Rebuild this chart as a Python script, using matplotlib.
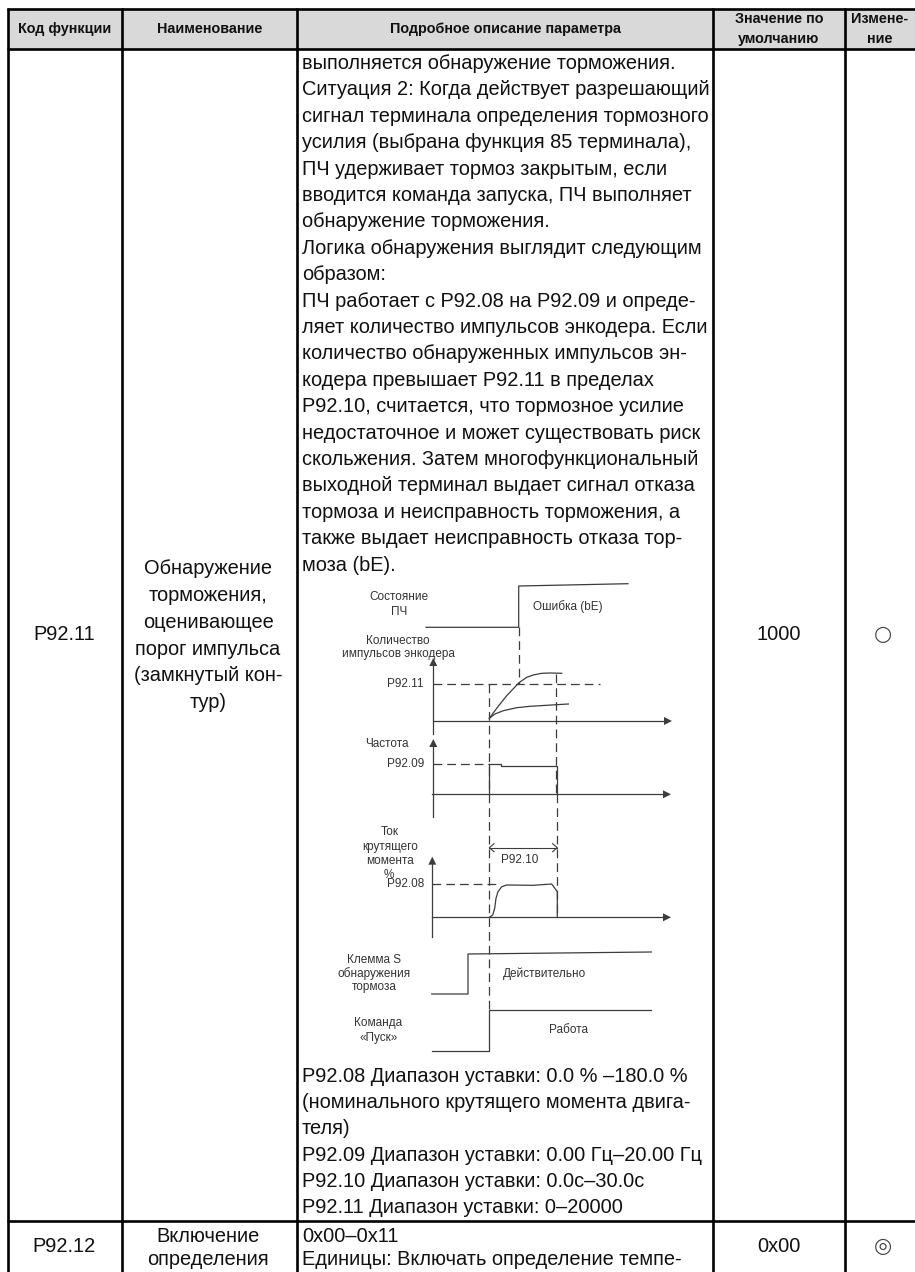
import matplotlib
matplotlib.use("Agg")
import matplotlib.pyplot as plt
from matplotlib.patches import Rectangle, Polygon

plt.rcParams['font.family'] = ['Liberation Sans', 'DejaVu Sans']

headers = [["Код функции"], ["Наименование"], ["Подробное описание параметра"],
           ["Значение по", "умолчанию"], ["Измене-", "ние"]]

body_top = ["выполняется обнаружение торможения.",
            "Ситуация 2: Когда действует разрешающий",
            "сигнал терминала определения тормозного",
            "усилия (выбрана функция 85 терминала),",
            "ПЧ удерживает тормоз закрытым, если",
            "вводится команда запуска, ПЧ выполняет",
            "обнаружение торможения.",
            "Логика обнаружения выглядит следующим",
            "образом:",
            "ПЧ работает с P92.08 на P92.09 и опреде-",
            "ляет количество импульсов энкодера. Если",
            "количество обнаруженных импульсов эн-",
            "кодера превышает P92.11 в пределах",
            "P92.10, считается, что тормозное усилие",
            "недостаточное и может существовать риск",
            "скольжения. Затем многофункциональный",
            "выходной терминал выдает сигнал отказа",
            "тормоза и неисправность торможения, а",
            "также выдает неисправность отказа тор-",
            "моза (bE)."]

body_bottom = ["P92.08 Диапазон уставки: 0.0 % –180.0 %",
               "(номинального крутящего момента двига-",
               "теля)",
               "P92.09 Диапазон уставки: 0.00 Гц–20.00 Гц",
               "P92.10 Диапазон уставки: 0.0с–30.0с",
               "P92.11 Диапазон уставки: 0–20000"]

name_p9211 = ["Обнаружение", "торможения,", "оценивающее", "порог импульса", "(замкнутый кон-", "тур)"]
name_p9212 = ["Включение", "определения"]
desc_p9212 = ["0x00–0x11", "Единицы: Включать определение темпе-"]

col_x = [8, 122, 297, 713, 845, 915]
row_y = [9, 48.5, 1221, 1272]

# diagram traces, page pixels
state_x = [426, 518.7, 518.7, 628]
state_y = [627.3, 627.3, 586, 583.7]
fast_x = [489.3, 496.7, 506.7, 519, 526.7, 533.3, 541.7, 550, 561.7]
fast_y = [718.3, 708.3, 695.7, 682.7, 677.3, 675, 673.3, 673, 673.3]
slow_x = [489.3, 495, 503.3, 516.7, 530, 546.7, 568.3]
slow_y = [718.3, 714, 710.7, 707.7, 706.3, 705.3, 704]
freq_x = [489.3, 500.7, 500.7, 557.3, 557.3]
freq_y = [764, 764, 765.7, 765.7, 794.3]
torque_x = [489.3, 492.7, 494.7, 496, 498, 501.7, 506.7, 533.3, 551.7, 557.3, 557.3]
torque_y = [917.3, 915, 908.3, 898.3, 891.7, 886.7, 885, 885.3, 884, 891.7, 917.3]
term_x = [431.7, 468, 468, 651.3]
term_y = [994, 994, 954, 952]
run_x = [431.7, 489.3, 489.3, 651.3]
run_y = [1051, 1051, 1010, 1010]

fig = plt.figure(figsize=(9.15, 12.72), dpi=100)
ax = fig.add_axes([0, 0, 1, 1])
ax.set_xlim(0, 915)
ax.set_ylim(1272, 0)
ax.axis('off')

# header band and grid
ax.add_patch(Rectangle((col_x[0], row_y[0]), col_x[-1] - col_x[0], row_y[1] - row_y[0], color='#d9d9d9', zorder=0))
for x in col_x[:-1]:
    ax.plot([x, x], [row_y[0] - 1, row_y[-1]], color='black', lw=1.9, solid_capstyle='butt')
for y in row_y[:-1]:
    ax.plot([col_x[0] - 1, 915], [y, y], color='black', lw=1.9, solid_capstyle='butt')

# header text
for i, lines in enumerate(headers):
    xc = (col_x[i] + col_x[i + 1]) / 2
    yc = (row_y[0] + row_y[1]) / 2 + 0.5
    for k, s in enumerate(lines):
        y = yc + (k - (len(lines) - 1) / 2) * 20
        ax.text(xc, y, s, ha='center', va='center', fontsize=10.4, fontweight='bold', color='#111111')

BODY = 14.4
PITCH = 26.4
for i, s in enumerate(body_top):
    ax.text(302, 63.5 + i * PITCH, s, va='center', fontsize=BODY, color='#111111')
for i, s in enumerate(body_bottom):
    ax.text(302, 1076.5 + i * 26.2, s, va='center', fontsize=BODY, color='#111111')

for i, s in enumerate(name_p9211):
    ax.text(208, 569 + i * 26.7, s, ha='center', va='center', fontsize=BODY, color='#111111')
ax.text(64, 634, "P92.11", ha='center', va='center', fontsize=BODY, color='#111111')
ax.text(779, 634, "1000", ha='center', va='center', fontsize=BODY, color='#111111')
ax.text(883, 634, "○", ha='center', va='center', fontsize=15, color='#444444', family=['DejaVu Sans'])

ax.text(64, 1247, "P92.12", ha='center', va='center', fontsize=BODY, color='#111111')
for i, s in enumerate(name_p9212):
    ax.text(208, 1236 + i * 23.5, s, ha='center', va='center', fontsize=BODY, color='#111111')
for i, s in enumerate(desc_p9212):
    ax.text(302, 1236 + i * 23.5, s, va='center', fontsize=BODY, color='#111111')
ax.text(779, 1246, "0x00", ha='center', va='center', fontsize=BODY, color='#111111')
ax.text(883, 1246, "◎", ha='center', va='center', fontsize=15, color='#444444', family=['DejaVu Sans'])

# timing diagram
LINE = '#3c3c3c'
for xs, ys in [(state_x, state_y), (fast_x, fast_y), (slow_x, slow_y), (freq_x, freq_y),
               (torque_x, torque_y), (term_x, term_y), (run_x, run_y)]:
    ax.plot(xs, ys, color=LINE, lw=0.9, solid_joinstyle='round')


def arrow_right(x0, x1, y):
    ax.plot([x0, x1 - 6], [y, y], color=LINE, lw=0.9)
    ax.add_patch(Polygon([(x1, y), (x1 - 8, y - 4), (x1 - 8, y + 4)], color=LINE, lw=0))


def arrow_up(x, y0, y1):
    ax.plot([x, x], [y0, y1 + 6], color=LINE, lw=0.9)
    ax.add_patch(Polygon([(x, y1), (x - 4, y1 + 8), (x + 4, y1 + 8)], color=LINE, lw=0))


arrow_up(433.3, 734, 658)
arrow_right(433.3, 672, 721)
arrow_up(433.3, 817, 739)
arrow_right(432.3, 671, 794.3)
arrow_up(432.3, 937, 856.7)
arrow_right(431.7, 671, 917.3)

dash = dict(color=LINE, lw=0.9, dashes=(7, 4))
ax.plot([433.3, 600], [684.3, 684.3], **dash)
ax.plot([433, 489], [764, 764], **dash)
ax.plot([432.3, 500], [884.3, 884.3], **dash)
ax.plot([519, 519], [627.3, 684], **dash)
ax.plot([489.3, 489.3], [684.3, 1010], **dash)
ax.plot([556, 556], [673.5, 794], **dash)
ax.plot([557.3, 557.3], [794, 917.3], **dash)
ax.plot([489.3, 489.3], [764, 794], color=LINE, lw=0.9)

# P92.10 span
ax.plot([489.3, 557.3], [847.7, 847.7], color=LINE, lw=0.8)
ax.plot([494, 489.3, 494], [843.7, 847.7, 851.7], color=LINE, lw=0.8)
ax.plot([552.6, 557.3, 552.6], [843.7, 847.7, 851.7], color=LINE, lw=0.8)

SMALL = 8.5
labels_center = [("Состояние", 399.3, 597.3), ("ПЧ", 399.3, 611.7),
                 ("Количество", 398.3, 640.7), ("импульсов энкодера", 398.3, 654.3),
                 ("Частота", 386.7, 744),
                 ("Ток", 390, 832.3), ("крутящего", 390, 846.7), ("момента", 390, 861), ("%", 389.3, 875),
                 ("P92.10", 519.3, 860),
                 ("Клемма S", 374, 960.3), ("обнаружения", 374, 974), ("тормоза", 374, 987.3),
                 ("Команда", 378.3, 1023), ("«Пуск»", 378.3, 1037.7), ("Работа", 568.3, 1030)]
for s, x, y in labels_center:
    ax.text(x, y, s, ha='center', va='center', fontsize=SMALL, color='#333333')

labels_right = [("P92.11", 423.3, 684.3), ("P92.09", 424, 764), ("P92.08", 424, 884.3)]
for s, x, y in labels_right:
    ax.text(x, y, s, ha='right', va='center', fontsize=SMALL, color='#333333')

ax.text(533.3, 606.7, "Ошибка (bE)", va='center', fontsize=SMALL, color='#333333')
ax.text(503.3, 973.3, "Действительно", va='center', fontsize=SMALL, color='#333333')

fig.savefig("out.png", dpi=100)
